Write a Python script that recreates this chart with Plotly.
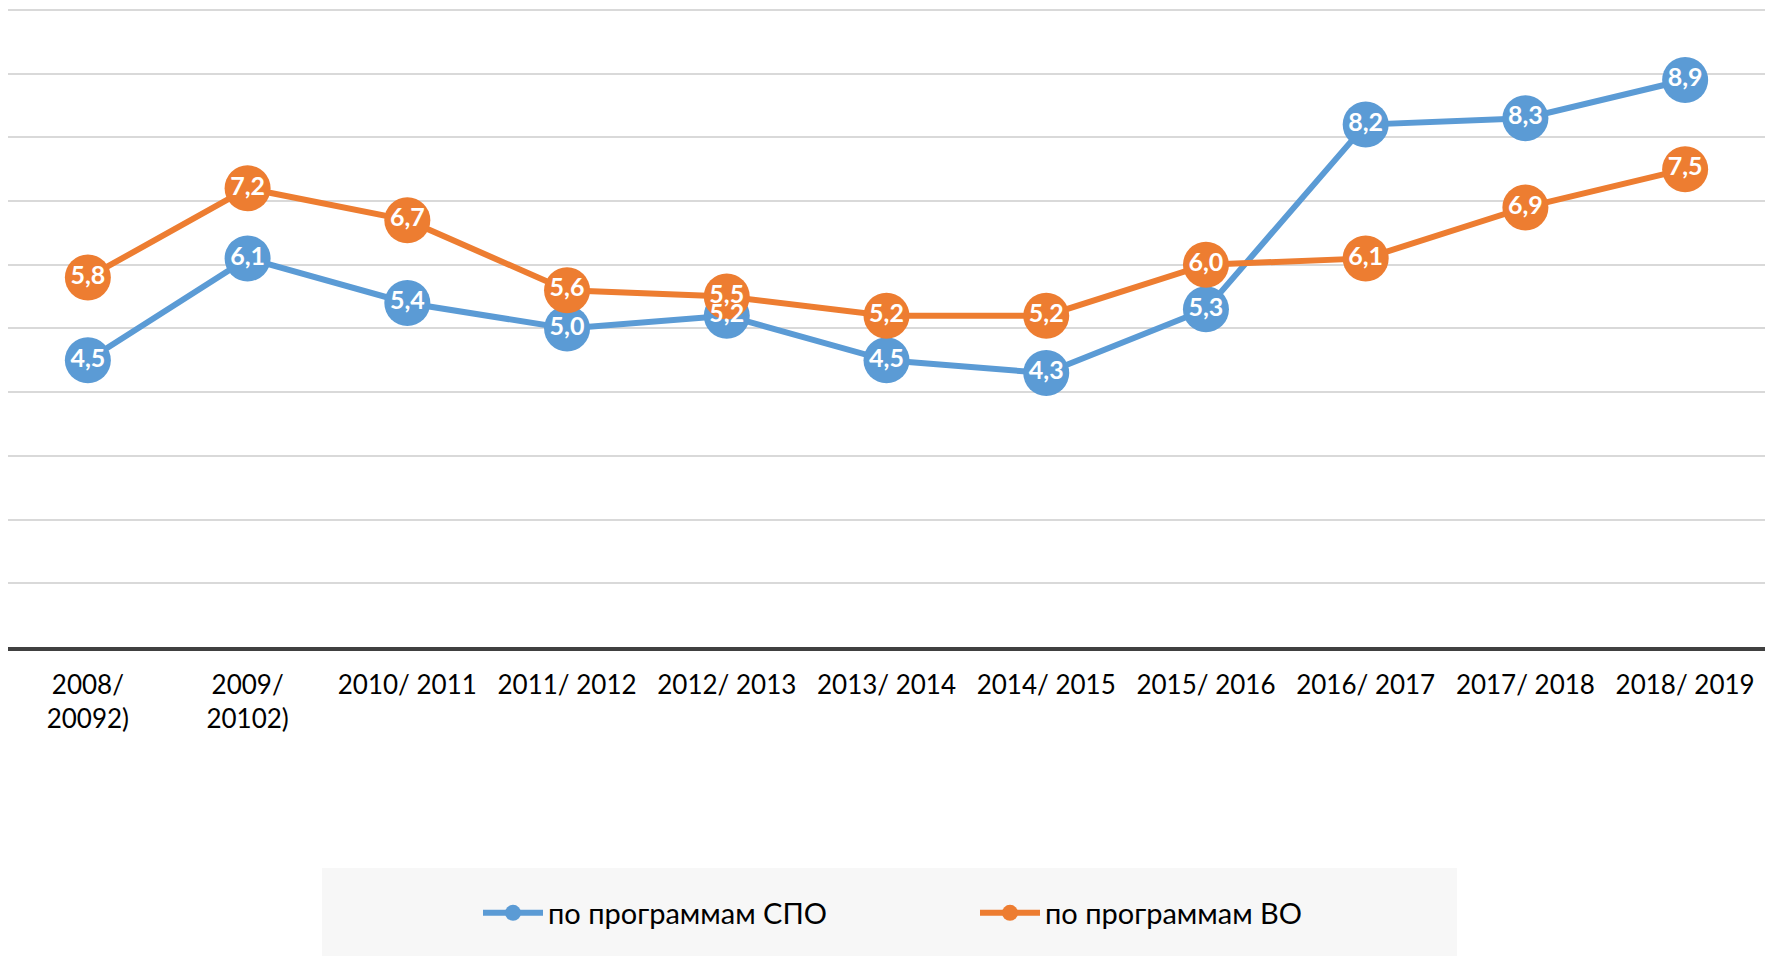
import plotly.graph_objects as go

categories = ["2008/ 20092)", "2009/ 20102)", "2010/ 2011", "2011/ 2012", "2012/ 2013",
              "2013/ 2014", "2014/ 2015", "2015/ 2016", "2016/ 2017", "2017/ 2018", "2018/ 2019"]
tick_labels = ["2008/<br>20092)", "2009/<br>20102)", "2010/ 2011", "2011/ 2012", "2012/ 2013",
               "2013/ 2014", "2014/ 2015", "2015/ 2016", "2016/ 2017", "2017/ 2018", "2018/ 2019"]
spo = [4.5, 6.1, 5.4, 5.0, 5.2, 4.5, 4.3, 5.3, 8.2, 8.3, 8.9]
vo = [5.8, 7.2, 6.7, 5.6, 5.5, 5.2, 5.2, 6.0, 6.1, 6.9, 7.5]
series_names = ["по программам СПО", "по программам ВО"]
colors = ["#5B9BD5", "#ED7D31"]

FONT = "Lato"
fig = go.Figure()
for name, vals, col in zip(series_names, [spo, vo], colors):
    fig.add_trace(go.Scatter(
        x=categories, y=vals, name=name, mode="lines+markers",
        line=dict(color=col, width=6),
        marker=dict(size=46, color=col, line=dict(width=0)),
        cliponaxis=False,
    ))
for vals in [spo, vo]:
    fig.add_trace(go.Scatter(
        x=categories, y=vals, mode="text", texttemplate="%{y:.1f}",
        textposition="middle center", showlegend=False, hoverinfo="skip",
        textfont=dict(family=FONT, size=25, color="white", weight="bold"),
        cliponaxis=False,
    ))

W, H = 1765, 956
ml, mr, mt, mb = 8, 0, 8, 309
pw, ph = W - ml - mr, H - mt - mb

def px_to_paper_x(px):
    return (px - ml) / pw

def px_to_paper_y(py):
    return (H - mb - py) / ph

fig.add_shape(type="rect", xref="paper", yref="paper",
              x0=px_to_paper_x(322), x1=px_to_paper_x(1457),
              y0=px_to_paper_y(868), y1=px_to_paper_y(960),
              fillcolor="#F7F7F7", line=dict(width=0), layer="below")

fig.update_layout(
    template="none",
    width=W, height=H,
    margin=dict(l=ml, r=mr, t=mt, b=mb, autoexpand=False),
    paper_bgcolor="white", plot_bgcolor="white",
    separators=", ",
    font=dict(family=FONT, size=26, color="#000000"),
    showlegend=True,
    legend=dict(orientation="h", x=px_to_paper_x(478), xanchor="left",
                y=px_to_paper_y(913), yanchor="middle", itemwidth=60,
                bgcolor="rgba(0,0,0,0)", borderwidth=0, entrywidth=422, itemsizing="trace",
                font=dict(family=FONT, size=29, color="#000000")),
    xaxis=dict(type="category", tickvals=categories, ticktext=tick_labels, automargin=False,
               showgrid=False, showline=True, linecolor="#404040", linewidth=4,
               ticks="", ticklabelstandoff=12, tickfont=dict(family=FONT, size=26, color="#000000"),
               range=[-0.5, 10.5], fixedrange=True),
    yaxis=dict(range=[0, 10.03], dtick=1, showgrid=True, gridcolor="#D9D9D9", gridwidth=1.5,
               automargin=False, showticklabels=False, zeroline=False, showline=False, ticks=""),
)

fig.write_html("out.html", config={"displayModeBar": False},
               post_script="document.body.style.margin='0';document.body.style.overflow='hidden';")
